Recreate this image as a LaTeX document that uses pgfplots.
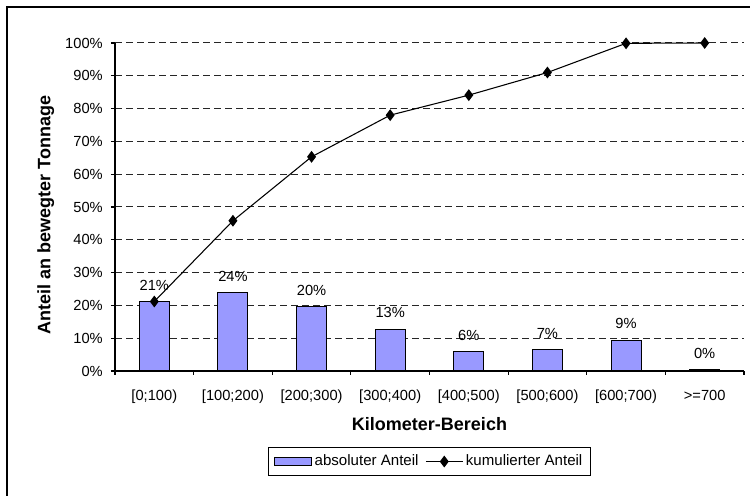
\documentclass[border=0pt]{standalone}
\usepackage{pgfplots}
\pgfplotsset{compat=1.18}
\usepackage{fontspec}
\setmainfont{Liberation Sans}
\definecolor{barfill}{HTML}{9999FF}
\newcommand{\tfont}{\fontsize{11}{13}\selectfont}
\newcommand{\lfont}{\bfseries\fontsize{13.5}{16}\selectfont}
\pgfplotsset{
  barleg/.style={legend image code/.code={\draw[##1] (0pt,-3pt) rectangle (27.75pt,3pt);}},
  lineleg/.style={legend image code/.code={\draw[mark repeat=2,mark phase=2,##1] plot coordinates {(0pt,0pt) (13.9pt,0pt) (27.75pt,0pt)};}},
}
\begin{document}
\begin{tikzpicture}
\useasboundingbox (0,0) rectangle (562.5pt,372pt);
\draw[line width=1.2pt] (5.25pt,0pt) -- (5.25pt,366.75pt) -- (562.5pt,366.75pt);
\begin{axis}[
  at={(86.25pt,93.75pt)}, anchor=south west,
  scale only axis, width=471.75pt, height=246pt,
  xmin=-0.5, xmax=7.5, ymin=0, ymax=100,
  axis x line*=bottom, axis y line*=left,
  axis line style={-, black, line width=0.8pt},
  tick align=outside, major tick length=3pt,
  tick style={black, line width=0.8pt},
  xtick={-0.5,0.5,...,7.5}, xticklabels={{},{},{},{},{},{},{},{},{}},
  extra x ticks={0,1,2,3,4,5,6,7},
  extra x tick labels={{[0;100)},{[100;200)},{[200;300)},{[300;400)},{[400;500)},{[500;600)},{[600;700)},{>=700}},
  extra x tick style={major tick length=0pt, tick style={draw=none}},
  ytick={0,10,...,100},
  yticklabel={\pgfmathprintnumber{\tick}\%},
  ymajorgrids,
  y grid style={dash pattern=on 5.25pt off 3pt, black!85, line width=0.75pt},
  /pgf/number format/assume math mode=true,
  tick label style={font=\tfont},
  xticklabel style={anchor=north, inner sep=0pt, yshift=-14pt},
  yticklabel style={anchor=east, inner sep=0pt, xshift=-6pt},
  xlabel={Kilometer-Bereich},
  ylabel={Anteil an bewegter Tonnage},
  label style={font=\lfont},
  xlabel style={at={(axis description cs:0.5,-0.1616)}, anchor=center},
  ylabel style={at={(axis description cs:-0.11,0.476)}, anchor=center},
  legend style={at={(axis description cs:0.5,-0.276)}, anchor=center,
    legend columns=2, draw=black, line width=0.75pt, font=\fontsize{11.3}{13}\selectfont,
    inner xsep=4pt, inner ysep=3.5pt,
    /tikz/every even column/.append style={column sep=3pt}},
]
\addplot[ybar, bar width=22.5pt, fill=barfill, draw=black, line width=0.8pt,
  nodes near coords={\pgfmathprintnumber[fixed,precision=0]{\pgfplotspointmeta}\%},
  every node near coord/.append style={font=\tfont, anchor=south, inner sep=0pt, yshift=8pt, black},
  barleg]
coordinates {(0,21.2) (1,23.8) (2,19.6) (3,12.7) (4,5.9) (5,6.5) (6,9.4) (7,0.3)};
\addlegendentry{absoluter Anteil}
\addplot[black, line width=0.8pt, mark=diamond*, mark size=3.8pt, mark options={solid}, lineleg]
coordinates {(0,21.2) (1,45.8) (2,65.3) (3,78.0) (4,84.1) (5,91.0) (6,99.9) (7,100)};
\addlegendentry{kumulierter Anteil}
\end{axis}
\end{tikzpicture}
\end{document}
